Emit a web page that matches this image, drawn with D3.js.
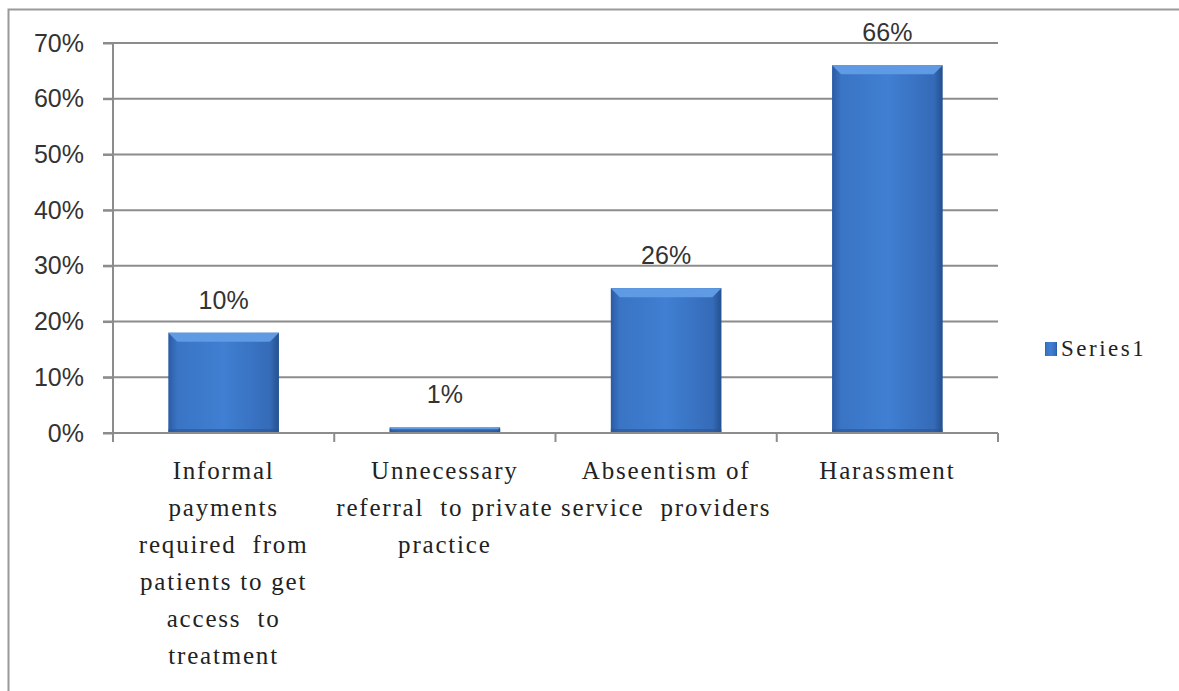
<!DOCTYPE html>
<html>
  <head>
    <meta charset="utf-8">
    <script src="https://cdn.jsdelivr.net/npm/d3@7"></script>
    <style>
      body { margin: 0; background: #fff; }
      svg { display: block; }
    </style>
  </head>
  <body>
    <svg width="1179" height="691"></svg>
    <script>

        // Data
        var categories = [
          ["Informal", "payments", "required  from", "patients to get", "access  to", "treatment"],
          ["Unnecessary", "referral  to private", "practice"],
          ["Abseentism of", "service  providers"],
          ["Harassment"]
        ];
        var values = [0.18, 0.01, 0.26, 0.66];
        var valueLabels = ["10%", "1%", "26%", "66%"];
        var yTicks = [0, 0.1, 0.2, 0.3, 0.4, 0.5, 0.6, 0.7];
        var seriesName = "Series1";

        var svg = d3.select("svg");
        var plotLeft = 113, plotRight = 998, plotTop = 43, plotBottom = 433;

        // outer chart frame
        svg.append("rect")
          .attr("x", 8.5).attr("y", 9.5)
          .attr("width", 1200).attr("height", 700)
          .attr("fill", "none")
          .attr("stroke", "#9a9a9a")
          .attr("stroke-width", 2);

        var yScale = d3.scaleLinear().domain([0, 0.7]).range([plotBottom, plotTop]);
        var xScale = d3.scaleBand()
          .domain(d3.range(categories.length))
          .range([plotLeft, plotRight])
          .paddingInner(0.5)
          .paddingOuter(0.25);

        // gradient for the bars
        var defs = svg.append("defs");
        var g1 = defs.append("linearGradient").attr("id", "barGrad")
          .attr("x1", "0").attr("x2", "1").attr("y1", "0").attr("y2", "0");
        g1.append("stop").attr("offset", "0").attr("stop-color", "#2b5ba3");
        g1.append("stop").attr("offset", "0.08").attr("stop-color", "#3a74c4");
        g1.append("stop").attr("offset", "0.5").attr("stop-color", "#407fd2");
        g1.append("stop").attr("offset", "0.92").attr("stop-color", "#356bb8");
        g1.append("stop").attr("offset", "1").attr("stop-color", "#24508f");

        // gridlines
        svg.append("g")
          .selectAll("line")
          .data(yTicks)
          .enter()
          .append("line")
          .attr("x1", plotLeft - 10)
          .attr("x2", plotRight)
          .attr("y1", function(d) { return yScale(d); })
          .attr("y2", function(d) { return yScale(d); })
          .attr("stroke", "#8c8c8c")
          .attr("stroke-width", 2);

        // y axis
        var yAxis = svg.append("g")
          .attr("transform", "translate(" + plotLeft + ",0)")
          .call(d3.axisLeft(yScale)
            .tickValues(yTicks)
            .tickFormat(d3.format(".0%"))
            .tickSize(10)
            .tickPadding(19));
        yAxis.select(".domain").attr("stroke", "#8c8c8c").attr("stroke-width", 2)
          .attr("d", "M0," + plotTop + "V" + (plotBottom + 8));
        yAxis.selectAll(".tick line").attr("stroke", "#8c8c8c").attr("stroke-width", 2);
        yAxis.selectAll("text")
          .style("font-family", "'Liberation Sans', Arial, sans-serif")
          .style("font-size", "25px")
          .attr("fill", "#333");

        // x axis ticks at category boundaries
        var boundaries = d3.range(categories.length + 1).map(function(i) {
          return plotLeft + i * xScale.step();
        });
        svg.append("g")
          .selectAll("line")
          .data(boundaries)
          .enter()
          .append("line")
          .attr("x1", function(d) { return d; })
          .attr("x2", function(d) { return d; })
          .attr("y1", plotBottom)
          .attr("y2", plotBottom + 9)
          .attr("stroke", "#8c8c8c")
          .attr("stroke-width", 2);

        // bars
        var bars = svg.append("g").selectAll("g")
          .data(values)
          .enter()
          .append("g");

        bars.append("rect")
          .attr("x", function(d, i) { return xScale(i); })
          .attr("y", function(d) { return yScale(d); })
          .attr("width", xScale.bandwidth())
          .attr("height", function(d) { return plotBottom - yScale(d); })
          .attr("fill", "url(#barGrad)");

        // top bevel
        bars.append("path")
          .attr("d", function(d, i) {
            var x0 = xScale(i), x1 = x0 + xScale.bandwidth(), y0 = yScale(d);
            var b = Math.min(9, (plotBottom - y0) / 2);
            return "M" + x0 + "," + y0 + "L" + x1 + "," + y0 +
              "L" + (x1 - b) + "," + (y0 + b) + "L" + (x0 + b) + "," + (y0 + b) + "Z";
          })
          .attr("fill", "#5e9be4");

        // bottom shade
        bars.append("rect")
          .attr("x", function(d, i) { return xScale(i); })
          .attr("y", plotBottom - 4)
          .attr("width", xScale.bandwidth())
          .attr("height", 4)
          .attr("fill", "#2a5597")
          .attr("opacity", 0.6);

        // x axis line
        svg.append("line")
          .attr("x1", plotLeft).attr("x2", plotRight)
          .attr("y1", plotBottom).attr("y2", plotBottom)
          .attr("stroke", "#8c8c8c")
          .attr("stroke-width", 2);

        // value labels
        svg.append("g").selectAll("text")
          .data(values)
          .enter()
          .append("text")
          .attr("x", function(d, i) { return xScale(i) + xScale.bandwidth() / 2; })
          .attr("y", function(d) { return yScale(d) - 24; })
          .attr("text-anchor", "middle")
          .style("font-family", "'Liberation Sans', Arial, sans-serif")
          .style("font-size", "25px")
          .attr("fill", "#333")
          .text(function(d, i) { return valueLabels[i]; });

        // category labels
        var catLabels = svg.append("g").selectAll("text")
          .data(categories)
          .enter()
          .append("text")
          .attr("text-anchor", "middle")
          .style("font-family", "'Liberation Serif', 'Times New Roman', serif")
          .style("font-size", "25px")
          .style("letter-spacing", "1.8px")
          .style("white-space", "pre")
          .attr("fill", "#222");
        catLabels.each(function(lines, i) {
          var cx = xScale(i) + xScale.bandwidth() / 2;
          d3.select(this).selectAll("tspan")
            .data(lines)
            .enter()
            .append("tspan")
            .attr("x", cx)
            .attr("y", function(d, j) { return 479 + j * 37; })
            .text(function(d) { return d; });
        });

        // legend
        var legend = svg.append("g").attr("transform", "translate(1045,342)");
        legend.append("rect")
          .attr("width", 12).attr("height", 14)
          .attr("fill", "url(#barGrad)");
        legend.append("text")
          .attr("x", 16).attr("y", 14)
          .style("font-family", "'Liberation Serif', 'Times New Roman', serif")
          .style("font-size", "23px")
          .style("letter-spacing", "2.5px")
          .attr("fill", "#222")
          .text(seriesName);

    </script>
  </body>
</html>
